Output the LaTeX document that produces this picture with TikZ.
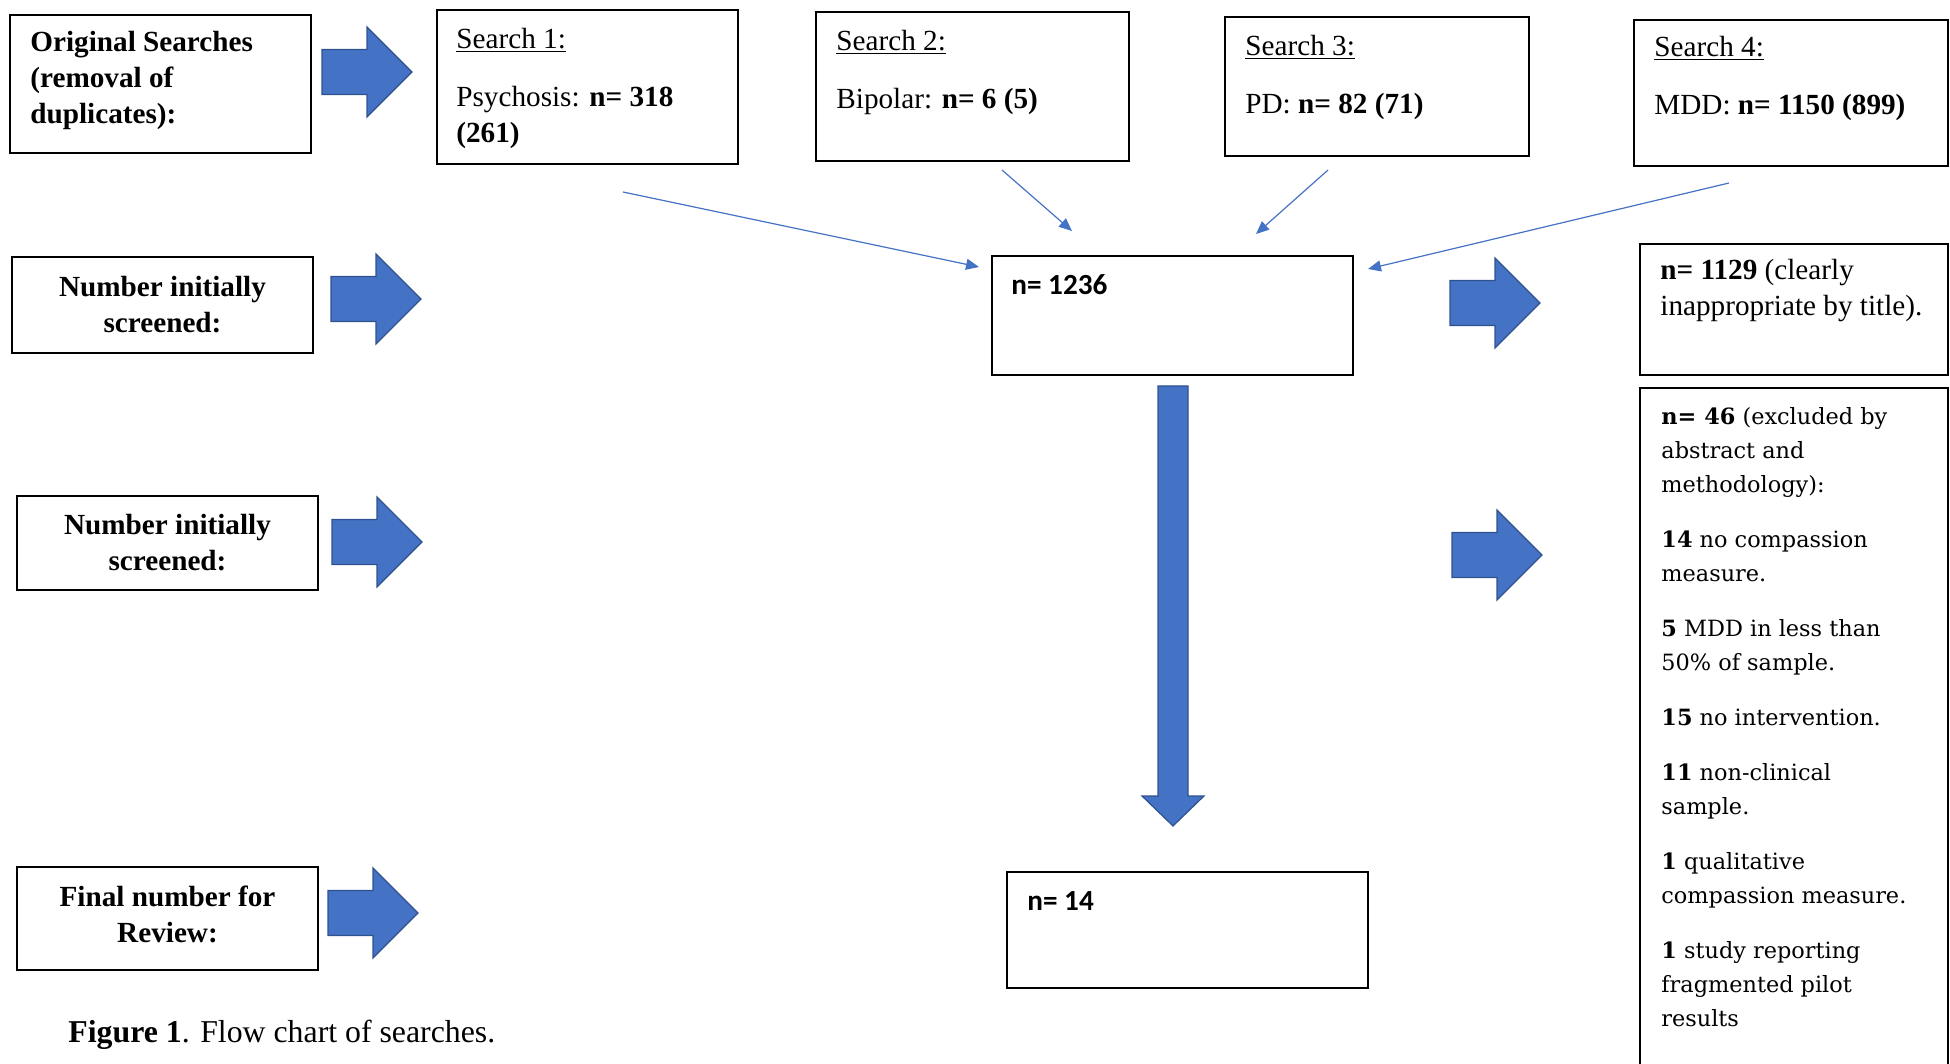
\documentclass[tikz,border=0pt]{standalone}
\usepackage{fontspec}
\setmainfont{Liberation Serif}
\newfontfamily\calfont{Carlito}
\newfontfamily\dvsfont{DejaVu Serif}
\usetikzlibrary{arrows.meta,calc}
\definecolor{blk}{HTML}{4472C4}
\definecolor{blkedge}{HTML}{2F528F}
\begin{document}
\begin{tikzpicture}[x=0.5pt,y=-0.5pt,
  box/.style={draw=black, line width=1pt, fill=white, inner sep=0pt, anchor=north west},
  lbl/.style={inner sep=0pt, font=\fontsize{14.6}{18}\selectfont},
  hdr/.style={lbl, font=\bfseries\fontsize{14.6}{18}\selectfont, align=center},
  calnum/.style={inner sep=0pt, anchor=west, font=\calfont\bfseries\fontsize{14.6}{18}\selectfont},
  blockarrow/.style={fill=blk, draw=blkedge, line width=0.6pt},
  thinarr/.style={draw=blk, line width=0.6pt, -{Triangle[length=6.5pt,width=5.5pt]}},
  rblock/.pic={\path[blockarrow] (0,-22.5) -- (45,-22.5) -- (45,-45) -- (90,0) -- (45,45) -- (45,22.5) -- (0,22.5) -- cycle;}
]
\useasboundingbox (0,0) rectangle (1950,1064);

% left column
\node[box, minimum width=150.5pt, minimum height=69pt] (orig) at (9,14) {};
\node[hdr, anchor=west, align=left] (origt) at (30,80) {Original Searches\\(removal of\\duplicates):};
\node[box, minimum width=150.5pt, minimum height=48pt] (scr1) at (11,256) {};
\node[hdr] (scr1t) at (scr1.center) {Number initially\\screened:};
\node[box, minimum width=150.5pt, minimum height=47pt] (scr2) at (16,495) {};
\node[hdr] (scr2t) at (scr2.center) {Number initially\\screened:};
\node[box, minimum width=150.5pt, minimum height=51.5pt] (fin) at (16,866) {};
\node[hdr] (fint) at ($(fin.center)+(0,-4)$) {Final number for\\Review:};

% block arrows left
\pic at (322,72) {rblock};
\pic at (331,299) {rblock};
\pic at (332,542) {rblock};
\pic at (328,913) {rblock};

% search boxes
\node[box, minimum width=150.5pt, minimum height=77pt] (s1) at (436,9) {};
\node[lbl, anchor=west, align=left] (s1t) at (456,88) {\underline{Search 1:}\\[11pt]Psychosis: \textbf{n= 318}\\\textbf{(261)}};
\node[box, minimum width=156.5pt, minimum height=74.5pt] (s2) at (815,11) {};
\node[lbl, anchor=west, align=left] (s2t) at (836,72) {\underline{Search 2:}\\[11pt]Bipolar: \textbf{n= 6 (5)}};
\node[box, minimum width=152pt, minimum height=69.5pt] (s3) at (1224,16) {};
\node[lbl, anchor=west, align=left] (s3t) at (1245,77) {\underline{Search 3:}\\[11pt]PD: \textbf{n= 82 (71)}};
\node[box, minimum width=157pt, minimum height=73pt] (s4) at (1633,19) {};
\node[lbl, anchor=west, align=left] (s4t) at (1654,78) {\underline{Search 4:}\\[11pt]MDD: \textbf{n= 1150 (899)}};

% central boxes
\node[box, minimum width=180.5pt, minimum height=59.5pt] (n1236) at (991,255) {};
\node[calnum] (n1236t) at (1011,285) {n= 1236};
\node[box, minimum width=180.5pt, minimum height=58pt] (n14) at (1006,871) {};
\node[calnum] (n14t) at (1027,901) {n= 14};

% thin arrows
\coordinate (a1s) at (623,192); \coordinate (a1e) at (979,267);
\coordinate (a2s) at (1002,170); \coordinate (a2e) at (1072,231);
\coordinate (a3s) at (1328,170); \coordinate (a3e) at (1256,234);
\coordinate (a4s) at (1729,183); \coordinate (a4e) at (1368,269);
\draw[thinarr] (a1s) -- (a1e);
\draw[thinarr] (a2s) -- (a2e);
\draw[thinarr] (a3s) -- (a3e);
\draw[thinarr] (a4s) -- (a4e);

% down block arrow
\path[blockarrow] (1158,386) -- (1188,386) -- (1188,796) -- (1204,796) -- (1173,826) -- (1142,796) -- (1158,796) -- cycle;

% right block arrows
\pic at (1450,303) {rblock};
\pic at (1452,555) {rblock};

% right boxes
\node[box, minimum width=154pt, minimum height=65.5pt] (n1129) at (1639,243) {};
\node[lbl, anchor=west, align=left] (n1129t) at (1660,291) {\textbf{n= 1129} (clearly\\inappropriate by title).};
\node[box, minimum width=154pt, minimum height=350pt] (n46) at (1639,387) {};
\node[inner sep=0pt, anchor=west, align=left, font=\dvsfont\fontsize{11.2}{17}\selectfont] (n46t) at (1661,717) {\textbf{n= 46} (excluded by\\abstract and\\methodology):\\[10.5pt]
\textbf{14} no compassion\\measure.\\[10.5pt]
\textbf{5} MDD in less than\\50\% of sample.\\[10.5pt]
\textbf{15} no intervention.\\[10.5pt]
\textbf{11} non-clinical\\sample.\\[10.5pt]
\textbf{1} qualitative\\compassion measure.\\[10.5pt]
\textbf{1} study reporting\\fragmented pilot\\results};

% caption
\node[inner sep=0pt, anchor=west, font=\fontsize{15.9}{18}\selectfont] (cap) at (68,1035) {\textbf{Figure 1}. Flow chart of searches.};
\end{tikzpicture}
\end{document}
